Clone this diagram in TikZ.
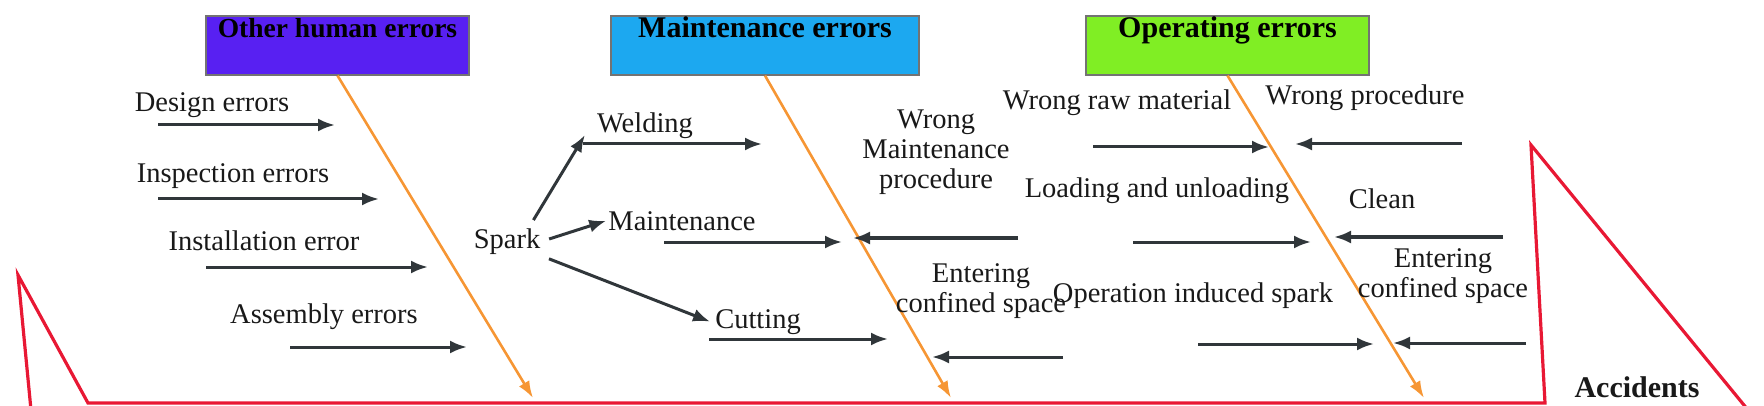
\documentclass[tikz,border=0pt]{standalone}
\usepackage{fontspec}
\setmainfont{Liberation Serif}
\usetikzlibrary{arrows.meta, positioning}
\definecolor{humanviolet}{RGB}{88,32,242}
\definecolor{maintblue}{RGB}{28,168,240}
\definecolor{opgreen}{RGB}{128,238,36}
\definecolor{headred}{RGB}{232,24,52}
\definecolor{boneorange}{RGB}{246,150,52}
\definecolor{causegray}{RGB}{48,54,58}
\tikzset{
  cause arrow/.style={
    -{Latex[length=17pt, width=13pt]},  % filled arrow tip
    line width=3pt,                      % cause line thickness
    draw=causegray
  },
  bone arrow/.style={
    -{Latex[length=17pt, width=12pt]},
    line width=2.6pt,
    draw=boneorange
  },
  category box/.style={
    draw=black!55, line width=1.2pt, inner sep=0pt,
    minimum width=#1, minimum height=59pt,
    text height=22pt, text depth=37pt,
    font=\bfseries\fontsize{30}{34}\selectfont
  },
  cause label/.style={
    anchor=base, inner sep=2pt, text=black!90,
    font=\fontsize{28.5}{30}\selectfont
  }
}

\begin{document}
\begin{tikzpicture}[x=1pt, y=-1pt]
    \useasboundingbox (0,0) rectangle (1764,406);

    % Fish outline
    \draw[headred, line width=3.2pt, line join=miter]
      (31,410) -- (18,275) -- (88,403) -- (1545,403) -- (1531,145) -- (1748,410);
    \node[cause label, font=\bfseries\fontsize{30}{34}\selectfont] (accidents) at (1637,397) {Accidents};

    % Category boxes
    \node[category box=263pt, fill=humanviolet] (human) at (337.5,45.5)
      {\fontsize{27.5}{30}\selectfont Other human errors};
    \node[category box=308pt, fill=maintblue] (maintbox) at (765,45.5) {Maintenance errors};
    \node[category box=283pt, fill=opgreen] (operbox) at (1227.5,45.5) {Operating errors};

    % Main bones
    \coordinate (bone1) at (533,398);
    \coordinate (bone2) at (951,398);
    \coordinate (bone3) at (1424,398);
    \draw[bone arrow] (human.south) -- (bone1);
    \draw[bone arrow] (maintbox.south) -- (bone2);
    \draw[bone arrow] (operbox.south) -- (bone3);

    % Cause labels
    \node[cause label] (design) at (212,112) {Design errors};
    \node[cause label] (inspection) at (233,183) {Inspection errors};
    \node[cause label] (installation) at (264,251) {Installation error};
    \node[cause label] (assembly) at (324,323) {Assembly errors};
    \node[cause label] (spark) at (507,248) {Spark};
    \node[cause label] (welding) at (645,133) {Welding};
    \node[cause label] (maint) at (682,230) {Maintenance};
    \node[cause label] (cutting) at (758,328) {Cutting};
    \node[cause label, anchor=center, align=center] (wrongmaint) at (936,152)
      {Wrong\\Maintenance\\procedure};
    \node[cause label, anchor=center, align=center] (enterone) at (981,291)
      {Entering\\confined space};
    \node[cause label] (rawmat) at (1117,110) {Wrong raw material};
    \node[cause label] (loading) at (1157,198) {Loading and unloading};
    \node[cause label] (opspark) at (1193,302) {Operation induced spark};
    \node[cause label] (wrongproc) at (1365,105) {Wrong procedure};
    \node[cause label] (clean) at (1382,208) {Clean};
    \node[cause label, anchor=center, align=center] (entertwo) at (1443,276)
      {Entering\\confined space};

    % Spark branches
    \draw[cause arrow] ([shift={(-9pt,6pt)}]spark.north east) -- ([xshift=-10pt]welding.190);
    \draw[cause arrow, shorten <=7pt] (spark.east) -- (maint.west);
    \draw[cause arrow, shorten <=7pt] (spark.south east) -- ([xshift=-3pt]cutting.west);

    % Cause arrows
    \foreach \name/\xa/\xb/\y in {design/158/335/125, inspection/158/379/199,
        installation/206/428/267, assembly/290/467/347, welding/583/762/144,
        maint/664/842/242, cutting/709/888/339, rawmat/1093/1269/147,
        loading/1133/1311/242, opspark/1198/1374/344, wrongmaint/1018/853/238,
        enterone/1063/932/357, wrongproc/1462/1295/144, clean/1503/1334/237,
        entertwo/1526/1393/343} {
      \coordinate (\name-s) at (\xa,\y);
      \coordinate (\name-e) at (\xb,\y);
      \draw[cause arrow] (\name-s) -- (\name-e);
    }
\end{tikzpicture}
\end{document}
